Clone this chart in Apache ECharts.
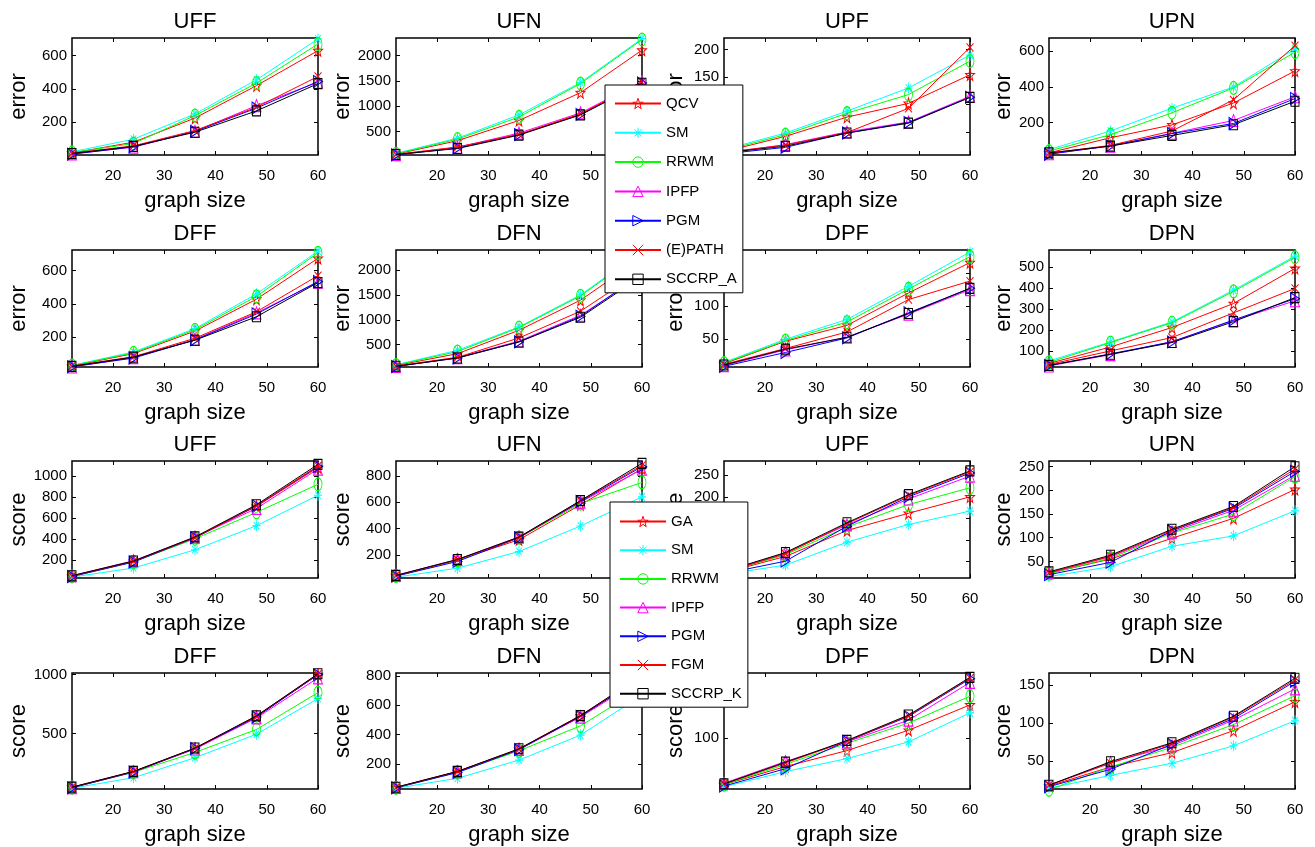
<!DOCTYPE html>
<html>
<head>
<meta charset="utf-8">
<script src="https://cdn.jsdelivr.net/npm/echarts@6/dist/echarts.min.js"></script>
<style>
  html, body { margin: 0; padding: 0; background: #fff; }
  #chart { width: 1315px; height: 847px; }
</style>
</head>
<body>
<div id="chart"></div>
<script>
// ---- data ---------------------------------------------------------------
const graphSize = [12, 24, 36, 48, 60];
const xTickValues = [20, 30, 40, 50, 60];
const panelNames = ['UFF', 'UFN', 'UPF', 'UPN', 'DFF', 'DFN', 'DPF', 'DPN'];
const errorMethods = ['QCV', 'SM', 'RRWM', 'IPFP', 'PGM', '(E)PATH', 'SCCRP_A'];
const scoreMethods = ['GA', 'SM', 'RRWM', 'IPFP', 'PGM', 'FGM', 'SCCRP_K'];

// error per method (rows follow errorMethods), columns follow graphSize
const errorUFF = [
  [15, 80, 225, 420, 630],
  [22, 98, 250, 455, 700],
  [18, 72, 240, 435, 670],
  [10, 50, 145, 300, 440],
  [8, 52, 145, 285, 445],
  [14, 58, 150, 290, 475],
  [12, 55, 140, 268, 432]
];
const errorUFN = [
  [55, 320, 720, 1270, 2110],
  [70, 370, 830, 1470, 2340],
  [60, 350, 790, 1450, 2320],
  [45, 190, 470, 870, 1490],
  [40, 175, 440, 840, 1460],
  [50, 195, 445, 850, 1480],
  [48, 165, 430, 830, 1455]
];
const errorUPF = [
  [14, 42, 77, 102, 154],
  [18, 48, 88, 130, 190],
  [16, 45, 84, 118, 179],
  [11, 27, 50, 68, 115],
  [10, 22, 48, 67, 113],
  [13, 26, 49, 93, 204],
  [12, 24, 48, 66, 113]
];
const errorUPN = [
  [30, 115, 187, 310, 490],
  [48, 153, 281, 400, 615],
  [40, 132, 255, 395, 595],
  [25, 68, 140, 212, 345],
  [22, 70, 138, 195, 335],
  [28, 72, 153, 328, 632],
  [30, 68, 128, 188, 320]
];
const errorDFF = [
  [24, 99, 235, 428, 675],
  [28, 109, 250, 460, 718],
  [26, 104, 243, 445, 708],
  [18, 75, 185, 345, 530],
  [20, 72, 182, 338, 535],
  [24, 80, 192, 352, 570],
  [22, 78, 180, 322, 528]
];
const errorDFN = [
  [80, 318, 789, 1394, 2250],
  [95, 386, 856, 1500, 2385],
  [88, 360, 843, 1480, 2365],
  [62, 240, 570, 1090, 1900],
  [60, 232, 555, 1070, 1915],
  [70, 245, 634, 1172, 1990],
  [65, 231, 554, 1050, 1880]
];
const errorDPF = [
  [13, 47, 71, 120, 166],
  [15, 50, 80, 130, 182],
  [14, 48, 76, 126, 175],
  [10, 34, 53, 88, 125],
  [9, 30, 52, 90, 127],
  [12, 36, 61, 110, 138],
  [11, 35, 53, 89, 127]
];
const errorDPN = [
  [40, 119, 212, 327, 495],
  [52, 143, 239, 391, 554],
  [45, 140, 235, 385, 548],
  [28, 82, 145, 245, 340],
  [30, 86, 143, 248, 350],
  [35, 100, 164, 282, 399],
  [31, 84, 140, 240, 355]
];

// score per method (rows follow scoreMethods)
const scoreUFF = [
  [45, 184, 412, 710, 1080],
  [35, 121, 295, 525, 815],
  [42, 180, 400, 652, 920],
  [48, 190, 415, 690, 1065],
  [40, 178, 410, 715, 1090],
  [45, 185, 412, 715, 1095],
  [48, 188, 418, 725, 1110]
];
const scoreUFN = [
  [40, 160, 315, 580, 855],
  [30, 99, 225, 419, 640],
  [40, 158, 330, 590, 750],
  [44, 165, 335, 600, 850],
  [38, 150, 330, 605, 870],
  [42, 162, 332, 610, 880],
  [44, 165, 335, 612, 895]
];
const scoreUPF = [
  [24, 62, 122, 162, 200],
  [20, 42, 95, 136, 167],
  [25, 66, 130, 182, 221],
  [26, 70, 135, 195, 248],
  [22, 51, 132, 200, 255],
  [25, 68, 138, 203, 258],
  [27, 71, 140, 205, 260]
];
const scoreUPN = [
  [25, 55, 99, 141, 202],
  [18, 39, 82, 104, 157],
  [24, 57, 110, 150, 229],
  [26, 60, 112, 158, 232],
  [22, 48, 115, 162, 240],
  [26, 61, 116, 164, 245],
  [28, 63, 118, 166, 250]
];
const scoreDFF = [
  [42, 175, 373, 645, 1000],
  [35, 124, 294, 494, 797],
  [40, 170, 339, 534, 847],
  [40, 175, 368, 632, 972],
  [38, 172, 372, 640, 1000],
  [42, 176, 374, 648, 1005],
  [44, 178, 376, 650, 1008]
];
const scoreDFN = [
  [40, 148, 300, 526, 790],
  [35, 103, 227, 397, 670],
  [38, 145, 290, 460, 720],
  [40, 148, 300, 520, 780],
  [38, 142, 298, 525, 795],
  [40, 150, 302, 530, 800],
  [42, 150, 304, 530, 805]
];
const scoreDPF = [
  [36, 61, 83, 111, 146],
  [33, 54, 72, 95, 135],
  [36, 64, 93, 121, 158],
  [38, 68, 95, 125, 177],
  [34, 58, 96, 130, 182],
  [37, 66, 96, 131, 183],
  [37, 67, 97, 132, 184]
];
const scoreDPN = [
  [17, 42, 61, 90, 128],
  [14, 31, 47, 70, 103],
  [12, 42, 68, 98, 136],
  [18, 48, 70, 104, 145],
  [16, 39, 72, 106, 155],
  [18, 47, 73, 108, 157],
  [18, 49, 74, 109, 159]
];

// y limits and tick labels of each panel
const errorYRange = [[3, 706], [37, 2351], [8, 221], [18, 675], [18, 725], [50, 2403], [8, 185], [23, 583]];
const errorYTicks = [
  [200, 400, 600], [500, 1000, 1500, 2000], [50, 100, 150, 200], [200, 400, 600],
  [200, 400, 600], [500, 1000, 1500, 2000], [50, 100, 150], [100, 200, 300, 400, 500]
];
const scoreYRange = [[26, 1142], [24, 913], [12, 283], [15, 262], [28, 1014], [30, 820], [30, 190], [13, 166]];
const scoreYTicks = [
  [200, 400, 600, 800, 1000], [200, 400, 600, 800], [50, 100, 150, 200, 250], [50, 100, 150, 200, 250],
  [500, 1000], [200, 400, 600, 800], [100], [50, 100, 150]
];

const errorPanels = [errorUFF, errorUFN, errorUPF, errorUPN, errorDFF, errorDFN, errorDPF, errorDPN];
const scorePanels = [scoreUFF, scoreUFN, scoreUPF, scoreUPN, scoreDFF, scoreDFN, scoreDPF, scoreDPN];

// ---- styling ------------------------------------------------------------
const FONT = 'Liberation Sans, Arial, Helvetica, sans-serif';
const STAR = 'path://M0,-10 L2.35,-3.24 L9.51,-3.09 L3.8,1.24 L5.88,8.09 L0,4 L-5.88,8.09 L-3.8,1.24 L-9.51,-3.09 L-2.35,-3.24 Z';
const ASTERISK = 'path://M0,-10 L0,10 M-10,0 L10,0 M-7,-7 L7,7 M-7,7 L7,-7';
const RIGHT_TRI = 'path://M-10,-10 L10,0 L-10,10 Z';
const CROSS = 'path://M-10,-10 L10,10 M-10,10 L10,-10';

// one marker/colour per method slot, shared by both groups
const methodStyles = [
  { color: '#ff0000', symbol: STAR, size: [9, 11] },
  { color: '#00ffff', symbol: ASTERISK, size: [8, 11] },
  { color: '#00ff00', symbol: 'circle', size: [8, 13] },
  { color: '#ff00ff', symbol: 'triangle', size: [9, 12] },
  { color: '#0000ff', symbol: RIGHT_TRI, size: [9, 12] },
  { color: '#ff0000', symbol: CROSS, size: [7, 8] },
  { color: '#000000', symbol: 'rect', size: [8, 10] }
];

const colLeft = [72, 396, 724, 1049];
const rowTop = [38, 250, 461, 673];
const plotW = 246, plotH = 117;
const yNameGap = [42, 42, 37, 34];

const grids = [], xAxes = [], yAxes = [], titles = [], series = [];

function tickStyle(values) {
  return { show: true, inside: true, length: 4, customValues: values, lineStyle: { color: '#000', width: 1 } };
}

for (let p = 0; p < 16; p++) {
  const row = Math.floor(p / 4), col = p % 4;
  const isError = p < 8;
  const k = p % 8;
  const values = isError ? errorPanels[k] : scorePanels[k];
  const methods = isError ? errorMethods : scoreMethods;
  const yRange = isError ? errorYRange[k] : scoreYRange[k];
  const yTicks = isError ? errorYTicks[k] : scoreYTicks[k];
  const left = colLeft[col], top = rowTop[row];

  grids.push({
    left: left, top: top, width: plotW, height: plotH,
    show: true, borderColor: '#000', borderWidth: 1.5, backgroundColor: 'rgba(0,0,0,0)'
  });

  titles.push({
    text: panelNames[k], left: left + plotW / 2, top: top - 27, textAlign: 'center', padding: 0,
    textStyle: { fontFamily: FONT, fontSize: 22, fontWeight: 'normal', color: '#000' }
  });

  xAxes.push({
    type: 'value', gridIndex: p, min: 12, max: 60, position: 'bottom',
    axisLine: { show: false }, splitLine: { show: false },
    axisTick: tickStyle(xTickValues),
    axisLabel: { customValues: xTickValues, fontFamily: FONT, fontSize: 15, color: '#000', margin: 13, formatter: v => String(v) },
    name: 'graph size', nameLocation: 'middle', nameGap: 35,
    nameTextStyle: { fontFamily: FONT, fontSize: 22, color: '#000' }
  });
  xAxes.push({
    type: 'value', gridIndex: p, min: 12, max: 60, position: 'top',
    axisLine: { show: false }, splitLine: { show: false },
    axisTick: tickStyle(xTickValues), axisLabel: { show: false }
  });

  yAxes.push({
    type: 'value', gridIndex: p, min: yRange[0], max: yRange[1], position: 'left',
    axisLine: { show: false }, splitLine: { show: false },
    axisTick: tickStyle(yTicks),
    axisLabel: { customValues: yTicks, fontFamily: FONT, fontSize: 15, color: '#000', margin: 5, formatter: v => String(v) },
    name: isError ? 'error' : 'score', nameLocation: 'middle', nameGap: yNameGap[col],
    nameTextStyle: { fontFamily: FONT, fontSize: 22, color: '#000' }
  });
  yAxes.push({
    type: 'value', gridIndex: p, min: yRange[0], max: yRange[1], position: 'right',
    axisLine: { show: false }, splitLine: { show: false },
    axisTick: tickStyle(yTicks), axisLabel: { show: false }
  });

  for (let i = 0; i < methods.length; i++) {
    const st = methodStyles[i];
    series.push({
      type: 'line', name: methods[i],
      xAxisIndex: 2 * p, yAxisIndex: 2 * p,
      data: graphSize.map((x, j) => [x, values[i][j]]),
      symbol: st.symbol, symbolSize: st.size, showAllSymbol: true,
      lineStyle: { color: st.color, width: 1 },
      itemStyle: { color: 'rgba(0,0,0,0)', borderColor: st.color, borderWidth: 1 },
      emphasis: { disabled: true }, silent: true,
      clip: false, animation: false, z: 2 + i * 0.01
    });
  }
}

function legendFor(names, left, top, gap, padTop) {
  return {
    data: names, orient: 'vertical', left: left, top: top,
    itemWidth: 46, itemHeight: 13, itemGap: gap, padding: [padTop, 6, 6, 9],
    backgroundColor: '#fff', borderColor: '#000', borderWidth: 1,
    selectedMode: false, z: 20,
    itemStyle: { color: 'rgba(0,0,0,0)', borderWidth: 1 },
    textStyle: { fontFamily: FONT, fontSize: 15, color: '#000' }
  };
}

const chart = echarts.init(document.getElementById('chart'), null, { renderer: 'canvas' });
chart.setOption({
  backgroundColor: '#fff',
  animation: false,
  textStyle: { fontFamily: FONT, color: '#000' },
  title: titles,
  grid: grids,
  xAxis: xAxes,
  yAxis: yAxes,
  legend: [
    legendFor(errorMethods, 605, 85, 14.3, 11),
    legendFor(scoreMethods, 610, 502, 13.7, 12)
  ],
  series: series
});
</script>
</body>
</html>
